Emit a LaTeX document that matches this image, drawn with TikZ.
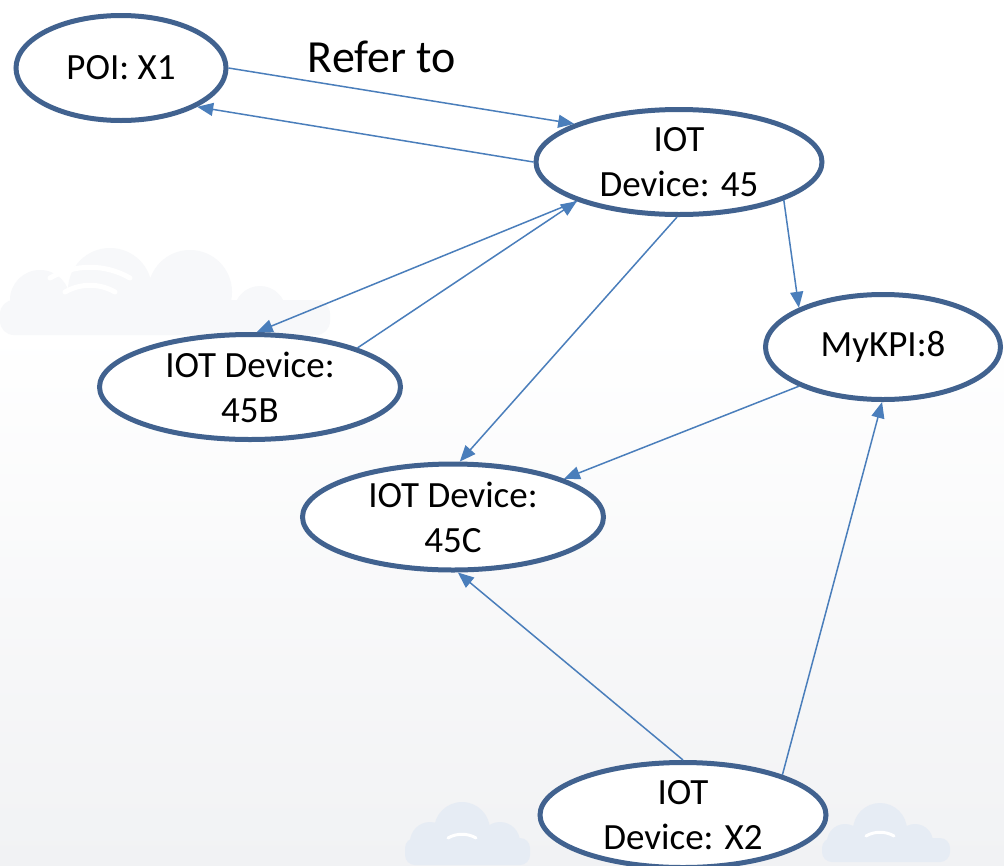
\documentclass[tikz,border=0pt]{standalone}
\usepackage{fontspec}
\setmainfont{Carlito}
\usetikzlibrary{shapes.geometric,arrows.meta}
\definecolor{ellc}{HTML}{41628F}
\definecolor{arrc}{HTML}{4A7EBB}
\definecolor{bgc}{HTML}{F1F2F4}
\definecolor{cloudc}{HTML}{E6ECF4}
\definecolor{cloudl}{HTML}{F7F8FA}
\begin{document}
\begin{tikzpicture}[x=1pt,y=-1pt,
  ell/.style={ellipse,draw=ellc,line width=5pt,fill=white,inner sep=0pt},
  txt/.style={font=\fontsize{37}{45}\selectfont,align=center,inner sep=0pt},
  link/.style={draw=arrc,line width=1.5pt,-{Triangle[length=16pt,width=13pt]}}]
\useasboundingbox[fill=white] (0,0) rectangle (1004,865);

% faint background scene
\shade[top color=white,bottom color=bgc] (0,330) rectangle (1004,865);
\fill[cloudl] (40,300) circle[radius=30] (110,290) circle[radius=42] (190,292) circle[radius=42]
  (260,312) circle[radius=26];
\fill[cloudl,rounded corners=14pt] (0,300) rectangle (330,335);
\draw[white,line width=5pt,line cap=round] (50,278) arc[start angle=240,end angle=300,radius=80];
\draw[white,line width=5pt,line cap=round] (65,292) arc[start angle=240,end angle=300,radius=50];
\fill[cloudc] (430,842) circle[radius=20] (462,830) circle[radius=28] (500,842) circle[radius=20];
\fill[cloudc,rounded corners=10pt] (405,838) rectangle (530,865);
\fill[cloudc] (845,842) circle[radius=18] (880,830) circle[radius=27] (915,842) circle[radius=18];
\fill[cloudc,rounded corners=10pt] (822,838) rectangle (950,862);
\draw[white,line width=3pt,line cap=round] (448,838) arc[start angle=240,end angle=300,radius=28];
\draw[white,line width=3pt,line cap=round] (866,836) arc[start angle=240,end angle=300,radius=28];

\node[ell,minimum width=210pt,minimum height=105pt,label={[txt]center:POI: X1}] (A) at (121,68) {};
\node[ell,minimum width=286pt,minimum height=105pt,label={[txt]center:IOT\\Device: 45}] (B) at (679,162) {};
\node[ell,minimum width=235pt,minimum height=105pt,label={[txt]center:MyKPI:8}] (K) at (883,347) {};
\node[ell,minimum width=301pt,minimum height=105pt,label={[txt]center:IOT Device:\\45B}] (D) at (250,387) {};
\node[ell,minimum width=301pt,minimum height=106pt,label={[txt]center:IOT Device:\\45C}] (C) at (453,517) {};
\node[ell,minimum width=286pt,minimum height=105pt,label={[txt]center:IOT\\Device: X2}] (X) at (683,815) {};

\node[font=\fontsize{46}{55}\selectfont,inner sep=0pt,anchor=base] (R) at (382,72) {Refer to};

\draw[link] (A.0) -- (B.160);
\draw[link] (B.180) -- (A.-27);
\draw[link] (B.201) -- (D.83);
\draw[link] (D.20) -- (B.201);
\draw[link] (B.268) -- (C.83);
\draw[link] (B.-20) -- (K.155);
\draw[link] (K.205) -- (C.19);
\draw[link] (X.90) -- (C.275);
\draw[link] (X.22) -- (K.269);
\end{tikzpicture}
\end{document}
